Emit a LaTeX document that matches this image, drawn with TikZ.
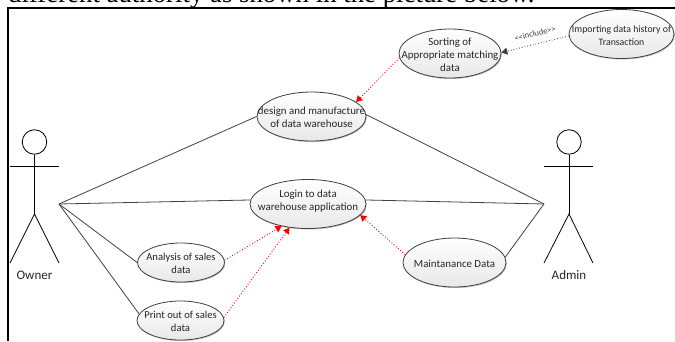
\documentclass[tikz,border=0pt]{standalone}
\usepackage{fontspec}
\setmainfont{Carlito}
\newfontfamily\serifhead{Liberation Serif}
\usetikzlibrary{shapes.geometric,arrows.meta,shadows}
\newcommand{\uctext}[2][-5pt]{\smash{\makebox[0pt]{\raisebox{#1}{\begin{tabular}{@{}c@{}}#2\end{tabular}}}}}
\tikzset{
  usecase/.style={ellipse,draw=black!75,line width=0.8pt,top color=white,bottom color=black!9,
    inner sep=0pt,font=\fontsize{10.9}{13}\selectfont,text=black!85,
    drop shadow={shadow xshift=0.8pt,shadow yshift=-1pt,opacity=0.25,fill=black}},
  assoc/.style={draw=black!75,line width=0.8pt},
  redflow/.style={draw=red,line width=0.9pt,dotted,-{Triangle[length=6pt,width=7pt]}},
  incflow/.style={draw=black!75,line width=0.8pt,dotted,-{Triangle[length=6pt,width=7pt]}},
  actorline/.style={draw=black,line width=0.8pt},
  actorlabel/.style={font=\fontsize{13}{15}\selectfont,text=black!85},
  frameline/.style={draw=black,line width=1.8pt}
}
\begin{document}
\begin{tikzpicture}[x=1pt,y=-1pt]
\useasboundingbox (0,0) rectangle (675,341);
\begin{scope}
\clip (0,0) rectangle (675,341);
\node[anchor=base west,inner sep=0pt,font=\serifhead\fontsize{26.8}{28}\selectfont] (head) at (8,2) {different authority as shown in the picture below.};
\draw[frameline] (675,8) -- (8,8) -- (8,341);

\node[usecase,minimum width=109pt,minimum height=49pt] (design) at (311.5,116.5) {\uctext{design and manufacture\\of data warehouse}};
\node[usecase,minimum width=102pt,minimum height=49pt] (sorting) at (450,53.5) {\uctext{Sorting of\\Appropriate matching\\data}};
\node[usecase,minimum width=105pt,minimum height=49pt,font=\fontsize{9.8}{12.5}\selectfont] (importing) at (621.5,34) {\uctext{Importing data history of\\Transaction}};
\node[usecase,minimum width=116pt,minimum height=49pt] (login) at (308,204) {\uctext[0pt]{Login to data\\warehouse application}};
\node[usecase,minimum width=87pt,minimum height=39pt,font=\fontsize{10.6}{13}\selectfont] (analysis) at (181,262.5) {\uctext{Analysis of sales\\data}};
\node[usecase,minimum width=87pt,minimum height=39pt,font=\fontsize{10.6}{13}\selectfont] (print) at (180.5,320.5) {\uctext{Print out of sales\\data}};
\node[usecase,minimum width=103pt,minimum height=49pt] (maint) at (454.5,262.5) {\uctext{Maintanance Data}};

% Owner
\node[circle,draw=black,line width=0.8pt,minimum size=24.5pt,inner sep=0pt] (ownerhead) at (34.5,142) {};
\coordinate (ownerhip) at (34.5,214);
\coordinate (ownerhand) at (59,204);
\coordinate (ownerfootl) at (10,263);
\coordinate (ownerfootr) at (59,263);
\coordinate (ownerarml) at (10,166);
\coordinate (ownerarmr) at (59,166);
\draw[actorline] (ownerhead) -- (ownerhip);
\draw[actorline] (ownerarml) -- (ownerarmr);
\draw[actorline] (ownerfootl) -- (ownerhip) -- (ownerfootr);
\node[actorlabel] (ownerlabel) at (34.5,275) {Owner};

% Admin
\node[circle,draw=black,line width=0.8pt,minimum size=24.5pt,inner sep=0pt] (adminhead) at (569,142) {};
\coordinate (adminhip) at (569,214);
\coordinate (adminhand) at (544,204);
\coordinate (adminfootl) at (544,263);
\coordinate (adminfootr) at (593,263);
\coordinate (adminarml) at (544,166);
\coordinate (adminarmr) at (593,166);
\draw[actorline] (adminhead) -- (adminhip);
\draw[actorline] (adminarml) -- (adminarmr);
\draw[actorline] (adminfootl) -- (adminhip) -- (adminfootr);
\node[actorlabel] (adminlabel) at (569,275) {Admin};

% associations
\draw[assoc] (ownerhand) -- (design.west);
\draw[assoc] (ownerhand) -- (login.176);
\draw[assoc] (ownerhand) -- (analysis.west);
\draw[assoc] (ownerhand) -- (print.171);
\draw[assoc] (adminhand) -- (design.2);
\draw[assoc] (adminhand) -- (login.4.6);
\draw[assoc] (adminhand) -- (maint.6);

% dependencies
\draw[redflow] (sorting.185) -- (design.18);
\draw[redflow] (analysis.3) -- (login.-140);
\draw[redflow] (print.4.6) -- (login.-128.7);
\draw[redflow] (maint.171.6) -- (login.-12.5);
\draw[incflow] (importing.182) -- node[pos=0.5,yshift=11pt,rotate=14,inner sep=0pt,font=\fontsize{8.5}{10}\selectfont,text=black!75] (inclabel) {<{}<include>{}>} (sorting.1);
\end{scope}
\end{tikzpicture}
\end{document}
